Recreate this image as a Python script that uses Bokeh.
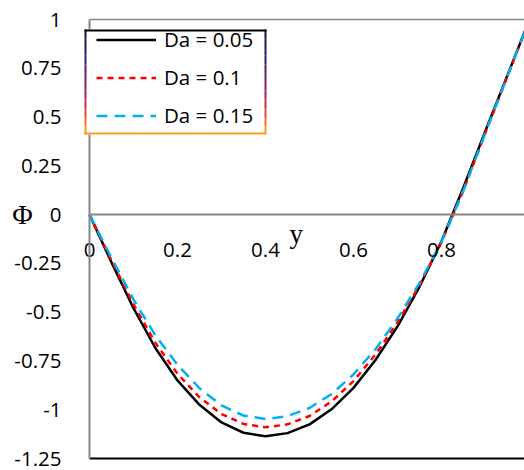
from bokeh.plotting import figure
from bokeh.models import (Range1d, LinearAxis, FixedTicker, Legend, LegendItem,
                          Label, BoxAnnotation)
from bokeh.embed import file_html
from bokeh.resources import INLINE

# Position across the channel
y_pos = [0.0, 0.05, 0.1, 0.15, 0.2, 0.25, 0.3, 0.35, 0.4, 0.45, 0.5,
         0.55, 0.6, 0.65, 0.7, 0.75, 0.8, 0.85, 0.9, 0.95, 1.0]

# Phi profiles for three Darcy numbers
phi_da005 = [0.0, -0.245, -0.48, -0.685, -0.85, -0.975, -1.065, -1.118, -1.136, -1.12, -1.075,
             -0.998, -0.888, -0.745, -0.573, -0.37, -0.137, 0.14, 0.43, 0.715, 1.0]
phi_da01 = [0.0, -0.235, -0.46, -0.658, -0.816, -0.936, -1.022, -1.073, -1.09, -1.075, -1.032,
            -0.958, -0.853, -0.717, -0.553, -0.362, -0.142, 0.125, 0.42, 0.71, 1.0]
phi_da015 = [0.0, -0.222, -0.435, -0.62, -0.77, -0.89, -0.978, -1.03, -1.048, -1.033, -0.991,
             -0.92, -0.819, -0.69, -0.532, -0.35, -0.14, 0.125, 0.42, 0.71, 1.0]

series_labels = ["Da = 0.05", "Da = 0.1", "Da = 0.15"]

y_ticks = [-1.25, -1.0, -0.75, -0.5, -0.25, 0.0, 0.25, 0.5, 0.75, 1.0]
y_tick_labels = ["-1.25", "-1", "-0.75", "-0.5", "-0.25", "0", "0.25", "0.5", "0.75", "1"]
x_ticks = [0.0, 0.2, 0.4, 0.6, 0.8]
x_tick_labels = ["0", "0.2", "0.4", "0.6", "0.8"]

FONT = "Open Sans"
SERIF = "Liberation Serif"
AXIS_GREY = "#868686"

W, H = 524, 470
# pixel layout of the plot area inside the page
PX_LEFT, PX_TOP, PX_BOTTOM = 89, 19, 458
X_PER_PX = 1.0 / 440.0
Y_PER_PX = 2.25 / (PX_BOTTOM - PX_TOP)

x_start = -PX_LEFT * X_PER_PX
x_end = (W - PX_LEFT) * X_PER_PX
y_end = 1.0 + PX_TOP * Y_PER_PX
y_start = -1.25 - (H - PX_BOTTOM) * Y_PER_PX

p = figure(width=W, height=H, output_backend="svg", toolbar_location=None,
           x_range=Range1d(x_start, x_end), y_range=Range1d(y_start, y_end),
           x_axis_type=None, y_axis_type=None,
           min_border_left=0, min_border_right=0, min_border_top=0, min_border_bottom=0)
p.grid.visible = False
p.outline_line_color = None
p.background_fill_color = "white"
p.border_fill_color = "white"


def style_axis(ax, color, width):
    ax.axis_line_color = color
    ax.axis_line_width = width
    ax.major_tick_line_color = None
    ax.minor_tick_line_color = None
    ax.major_label_text_font = FONT
    ax.major_label_text_font_size = "20.5px"
    ax.major_label_text_color = "black"


# Vertical axis at y = 0
yax = LinearAxis(ticker=FixedTicker(ticks=y_ticks), fixed_location=0.0, bounds=(-1.25, 1.0),
                 major_label_overrides=dict(zip(y_ticks, y_tick_labels)))
style_axis(yax, AXIS_GREY, 2)
yax.major_label_standoff = 22
p.add_layout(yax, "left")

# Horizontal axis crossing at Phi = 0
xax = LinearAxis(ticker=FixedTicker(ticks=x_ticks), fixed_location=0.0, bounds=(0.0, x_end),
                 major_label_overrides=dict(zip(x_ticks, x_tick_labels)))
style_axis(xax, AXIS_GREY, 2)
xax.major_label_standoff = 22
p.add_layout(xax, "below")

# Frame lines along the top and bottom of the plot area
top_line = LinearAxis(ticker=FixedTicker(ticks=[]), fixed_location=1.0, bounds=(0.0, x_end))
style_axis(top_line, AXIS_GREY, 1.5)
p.add_layout(top_line, "above")
bottom_line = LinearAxis(ticker=FixedTicker(ticks=[]), fixed_location=-1.25, bounds=(0.0, x_end))
style_axis(bottom_line, "black", 2)
p.add_layout(bottom_line, "below")

r1 = p.line(y_pos, phi_da005, line_color="black", line_width=2.5)
r2 = p.line(y_pos, phi_da01, line_color="#ff0000", line_width=2.5, line_dash="6 5")
r3 = p.line(y_pos, phi_da015, line_color="#00b0f0", line_width=2.5, line_dash="11 7")

# Legend frame: white panel with a shaded border (screen px, y measured from the bottom)
L, R, T, B = 84, 266, H - 29, H - 134


def screen_box(left, right, top, bottom, color):
    return BoxAnnotation(left=left, right=right, top=top, bottom=bottom,
                         left_units="screen", right_units="screen",
                         top_units="screen", bottom_units="screen",
                         fill_color=color, fill_alpha=1.0, line_alpha=0)


p.add_layout(screen_box(L, R, T, B, "white"))
side_colors = ["#10102a", "#18184a", "#241a5c", "#3a1c66", "#541e6c", "#6e1f6a",
               "#8a2064", "#a8245a", "#c4304c", "#dc4c3a", "#ec7426", "#f59c18"]
n = len(side_colors)
h = (T - B) / n
for i, c in enumerate(side_colors):
    for lx in (L, R - 2):
        p.add_layout(screen_box(lx, lx + 2, T - i * h, T - (i + 1) * h, c))
p.add_layout(screen_box(L, R, T, T - 2, "black"))
p.add_layout(screen_box(L, R, B + 2, B, "#f5a31a"))

legend = Legend(items=[LegendItem(label=series_labels[0], renderers=[r1]),
                       LegendItem(label=series_labels[1], renderers=[r2]),
                       LegendItem(label=series_labels[2], renderers=[r3])],
                location=(91, B))
legend.border_line_alpha = 0
legend.background_fill_alpha = 0
legend.padding = 5
legend.spacing = 10
legend.glyph_width = 60
legend.glyph_height = 25
legend.label_standoff = 8
legend.label_text_font = FONT
legend.label_text_font_size = "20.5px"
legend.label_text_color = "black"
legend.margin = 0
p.add_layout(legend, "center")

# Axis titles
p.add_layout(Label(x=(22 - PX_LEFT) * X_PER_PX, y=0.0, text="Φ", text_font=SERIF,
                   text_font_size="28px", text_align="center", text_baseline="middle",
                   text_color="black"))
p.add_layout(Label(x=0.47, y=-0.1, text="y", text_font=SERIF, text_font_size="27px",
                   text_align="center", text_baseline="middle", text_color="black"))

open("out.html", "w").write(file_html(p, INLINE))
